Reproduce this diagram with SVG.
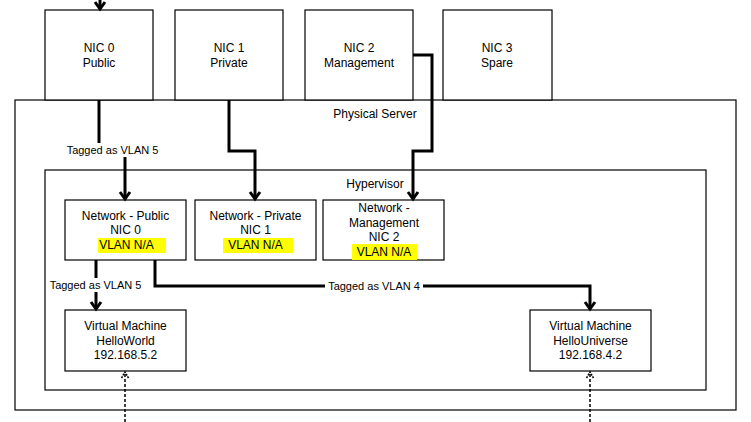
<svg xmlns="http://www.w3.org/2000/svg" width="751" height="422" viewBox="0 0 751 422">
<style>
.box{fill:#fff;stroke:#000;stroke-width:1.2}
.t{font-family:"Liberation Sans",Arial,sans-serif;font-size:12px;fill:#000;text-anchor:middle}
.l{font-family:"Liberation Sans",Arial,sans-serif;font-size:11px;fill:#000;text-anchor:middle}
.c{fill:none;stroke:#000;stroke-width:3;stroke-linejoin:miter}
.d{fill:none;stroke:#000;stroke-width:1.5;stroke-dasharray:3 2}
.hl{fill:#ffff00}
.lb{fill:#fff}
</style>
<defs>
<marker id="ah" markerUnits="userSpaceOnUse" markerWidth="16" markerHeight="16" viewBox="-10 -8 12 16" refX="0" refY="0" orient="auto">
<path d="M-7,-5 L0,0 L-7,5" fill="none" stroke="#000" stroke-width="3"/>
</marker>
<marker id="ad" markerUnits="userSpaceOnUse" markerWidth="12" markerHeight="12" viewBox="-8 -6 10 12" refX="0" refY="0" orient="auto">
<path d="M-6,-3.5 L0,0 L-6,3.5" fill="none" stroke="#000" stroke-width="1.5" stroke-dasharray="2 1"/>
</marker>
</defs>

<g id="physical-server">
<rect class="box" x="15" y="100" width="721" height="310"/>
<text class="t" x="375" y="118">Physical Server</text>
</g>
<g id="hypervisor">
<rect class="box" x="45" y="170" width="661" height="220"/>
<text class="t" x="375" y="188">Hypervisor</text>
</g>

<g id="nic0">
<rect class="box" x="45" y="10" width="108" height="90"/>
<text class="t" x="99" y="52">NIC 0</text>
<text class="t" x="99" y="66.5">Public</text>
</g>
<g id="nic1">
<rect class="box" x="175" y="10" width="108" height="90"/>
<text class="t" x="229" y="52">NIC 1</text>
<text class="t" x="229" y="66.5">Private</text>
</g>
<g id="nic2">
<rect class="box" x="305" y="10" width="108" height="90"/>
<text class="t" x="359" y="52">NIC 2</text>
<text class="t" x="359" y="66.5">Management</text>
</g>
<g id="nic3">
<rect class="box" x="443" y="10" width="109" height="90"/>
<text class="t" x="497" y="52">NIC 3</text>
<text class="t" x="497" y="66.5">Spare</text>
</g>

<g id="net-public">
<rect class="box" x="65" y="200" width="121" height="60"/>
<rect class="hl" x="98" y="238" width="68" height="15"/>
<text class="t" x="125.5" y="219.5">Network - Public</text>
<text class="t" x="125.5" y="234">NIC 0</text>
<text class="t" x="126.5" y="248.5">VLAN N/A</text>
</g>
<g id="net-private">
<rect class="box" x="195" y="200" width="121" height="60"/>
<rect class="hl" x="223" y="238" width="70" height="15"/>
<text class="t" x="255.5" y="219.5">Network - Private</text>
<text class="t" x="255.5" y="234">NIC 1</text>
<text class="t" x="255.5" y="248.5">VLAN N/A</text>
</g>
<g id="net-management">
<rect class="box" x="323" y="200" width="121" height="60"/>
<rect class="hl" x="352" y="244" width="65" height="16"/>
<text class="t" x="384" y="212">Network -</text>
<text class="t" x="384" y="226.5">Management</text>
<text class="t" x="384" y="241">NIC 2</text>
<text class="t" x="384" y="256">VLAN N/A</text>
</g>

<g id="vm-helloworld">
<rect class="box" x="65" y="310" width="121" height="61"/>
<text class="t" x="125.5" y="330">Virtual Machine</text>
<text class="t" x="125.5" y="344.5">HelloWorld</text>
<text class="t" x="125.5" y="359">192.168.5.2</text>
</g>
<g id="vm-hellouniverse">
<rect class="box" x="530" y="310" width="121" height="61"/>
<text class="t" x="590.5" y="330">Virtual Machine</text>
<text class="t" x="590.5" y="344.5">HelloUniverse</text>
<text class="t" x="590.5" y="359">192.168.4.2</text>
</g>

<g id="connectors">
<path class="c" d="M100,0 L100,9" marker-end="url(#ah)"/>
<path class="c" d="M99,100 L99,150 L125,150 L125,199" marker-end="url(#ah)"/>
<rect class="lb" x="65" y="143" width="95" height="14"/>
<text class="l" x="112.5" y="154">Tagged as VLAN 5</text>
<path class="c" d="M229,100 L229,151 L255,151 L255,199" marker-end="url(#ah)"/>
<path class="c" d="M413,55 L432,55 L432,151 L413,151 L413,199" marker-end="url(#ah)"/>
<path class="c" d="M96,260 L96,309" marker-end="url(#ah)"/>
<rect class="lb" x="48" y="278" width="95" height="14"/>
<text class="l" x="95.5" y="289">Tagged as VLAN 5</text>
<path class="c" d="M155,260 L155,286 L590,286 L590,309" marker-end="url(#ah)"/>
<rect class="lb" x="325" y="279" width="98" height="14"/>
<text class="l" x="374" y="290">Tagged as VLAN 4</text>
<path class="d" d="M125,422 L125,372" marker-end="url(#ad)"/>
<path class="d" d="M590,422 L590,372" marker-end="url(#ad)"/>
</g>
</svg>
